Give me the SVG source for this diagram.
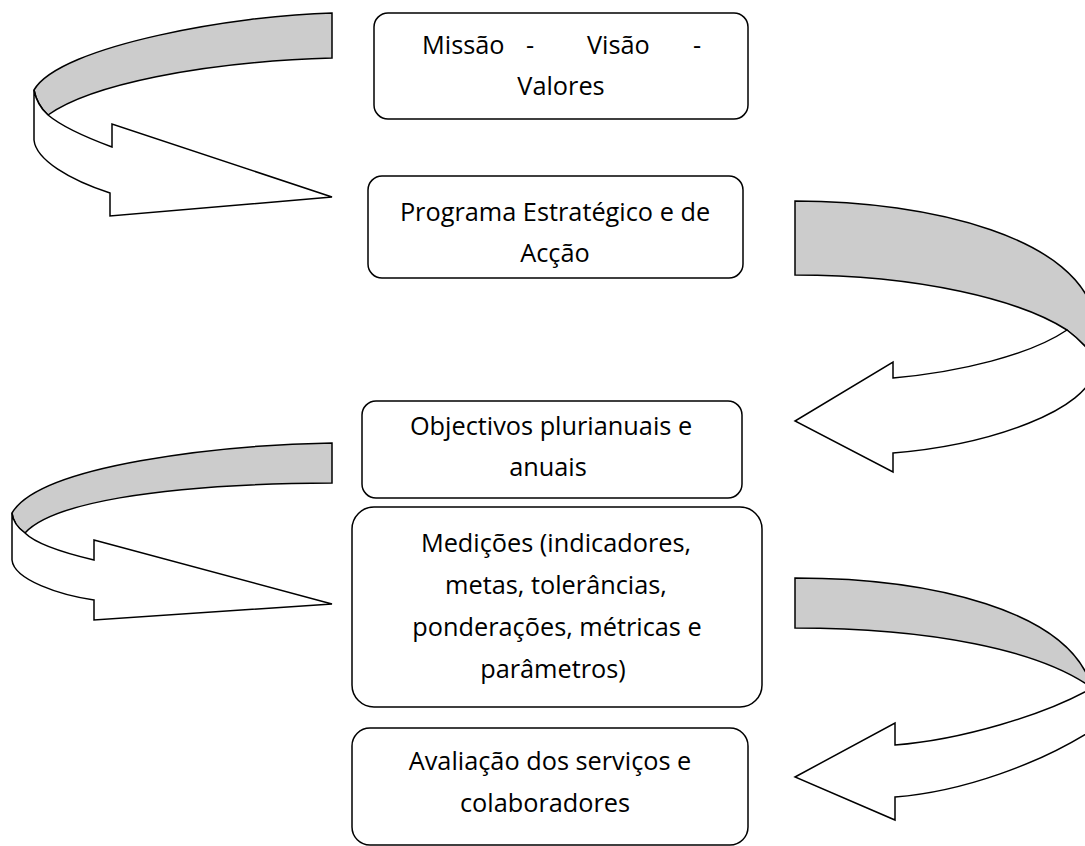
<svg xmlns="http://www.w3.org/2000/svg" width="1085" height="846" viewBox="0 0 1085 846">
  <style>
    .box { fill: #ffffff; stroke: #000000; stroke-width: 1.5; }
    .lbl { font-family: "Open Sans", "Liberation Sans", sans-serif; font-size: 25.3px; fill: #000000; }
    .mid { text-anchor: middle; }
    .back { fill: #cccccc; stroke: #000000; stroke-width: 1.5; stroke-linejoin: miter; }
    .front { fill: #ffffff; stroke: #000000; stroke-width: 1.5; stroke-linejoin: miter; }
  </style>
  <rect x="0" y="0" width="1085" height="846" fill="#ffffff"/>

  <g id="connectors">
    <g id="arrow1">
      <path class="back" d="M332,13 C240,15 60,45 34,90 C36,100 40,108 48,115 C90,85 200,62 332,58 Z"/>
      <path class="front" d="M34,90 L34,140 C36,160 70,180 110,193 L110,216 L332,197 L112,124 L112,147 C85,137 60,125 48,115 C40,108 36,100 34,90 Z"/>
    </g>
    <g id="arrow2">
      <path class="back" d="M795,201 C930,201 1082,238 1095,320 L1095,358 C1085,345 1075,336 1067,330 C1020,300 920,275 795,275 Z"/>
      <path class="front" d="M1067,330 C1075,336 1085,345 1095,358 L1095,368 C1090,410 990,445 893,453 L893,472 L795,421 L893,362 L893,378 C960,372 1030,355 1067,330 Z"/>
    </g>
    <g id="arrow3">
      <path class="back" d="M332,443 C220,445 40,465 12,513 C13,522 18,528 25,533 C50,505 150,484 332,483 Z"/>
      <path class="front" d="M12,513 L12,560 C14,580 60,595 94,600 L94,620 L332,604 L94,540 L94,560 C60,552 35,543 25,533 C18,528 13,522 12,513 Z"/>
    </g>
    <g id="arrow4">
      <path class="back" d="M795,578 C930,578 1070,610 1092,688 C1040,650 930,628 795,628 Z"/>
      <path class="front" d="M1092,688 C1045,715 960,740 895,745 L895,723 L795,777 L895,820 L895,797 C960,792 1040,765 1100,725 L1100,690 Z"/>
    </g>
  </g>

  <g id="node-missao">
    <rect class="box" x="374" y="13" width="374" height="106" rx="14"/>
    <text class="lbl" x="422" y="54">Missão</text>
    <text class="lbl mid" x="530" y="54">-</text>
    <text class="lbl" x="587" y="54">Visão</text>
    <text class="lbl mid" x="697" y="54">-</text>
    <text class="lbl mid" x="561" y="95">Valores</text>
  </g>

  <g id="node-programa">
    <rect class="box" x="368" y="176" width="375" height="102" rx="14"/>
    <text class="lbl mid" x="555" y="221">Programa Estratégico e de</text>
    <text class="lbl mid" x="555" y="262">Acção</text>
  </g>

  <g id="node-objectivos">
    <rect class="box" x="362" y="401" width="380" height="97" rx="14"/>
    <text class="lbl mid" x="551" y="435">Objectivos plurianuais e</text>
    <text class="lbl mid" x="548" y="476">anuais</text>
  </g>

  <g id="node-medicoes">
    <rect class="box" x="352" y="507" width="410" height="200" rx="22"/>
    <text class="lbl mid" x="556" y="552">Medições (indicadores,</text>
    <text class="lbl mid" x="556" y="594">metas, tolerâncias,</text>
    <text class="lbl mid" x="557" y="636">ponderações, métricas e</text>
    <text class="lbl mid" x="553" y="678">parâmetros)</text>
  </g>

  <g id="node-avaliacao">
    <rect class="box" x="352" y="728" width="396" height="117" rx="18"/>
    <text class="lbl mid" x="550" y="770">Avaliação dos serviços e</text>
    <text class="lbl mid" x="545" y="812">colaboradores</text>
  </g>
</svg>
